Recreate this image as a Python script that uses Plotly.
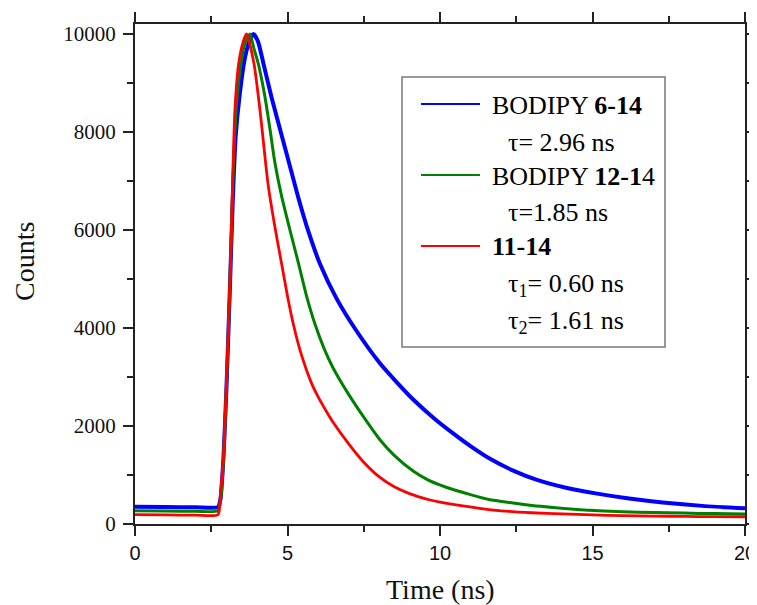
import plotly.graph_objects as go

# time (ns) / counts
t_blue = [0, 1, 2, 2.72, 2.8, 2.9, 3.0, 3.1, 3.2, 3.3, 3.44, 3.6, 3.75, 3.88, 4.03,
          4.21, 4.48, 4.81, 5.08, 5.36, 5.68, 6.07, 6.61, 7.21, 8.03, 8.6, 9.12,
          9.8, 10.43, 11.0, 11.64, 12.4, 13.18, 14.2, 15.15, 16.2, 17.3, 18.6, 20]
c_blue = [350, 345, 340, 345, 500, 1350, 2800, 4600, 6500, 7900, 8800, 9500, 9850, 10000, 9850,
          9400, 8700, 7930, 7300, 6650, 5980, 5300, 4600, 3990, 3280, 2880, 2540,
          2160, 1850, 1590, 1330, 1090, 900, 730, 620, 520, 440, 370, 320]

t_green = [0, 1, 2, 2.72, 2.8, 2.9, 3.0, 3.1, 3.2, 3.3, 3.45, 3.6, 3.77, 3.9, 4.04,
           4.26, 4.43, 4.59, 4.81, 5.08, 5.36, 5.63, 5.9, 6.2, 6.5, 7.0, 7.5, 8.03,
           8.5, 9.12, 9.6, 10.2, 11, 11.6, 12.4, 13.3, 14.6, 16, 17, 18, 19, 20]
c_green = [270, 265, 260, 270, 450, 1300, 2850, 4650, 6800, 8300, 9300, 9800, 10000, 9700, 9400,
           8720, 8040, 7360, 6680, 6000, 5320, 4640, 4080, 3580, 3180, 2650, 2180, 1720,
           1400, 1080, 900, 750, 600, 500, 430, 360, 290, 250, 235, 222, 212, 205]

t_red = [0, 1, 2, 2.72, 2.8, 2.9, 3.0, 3.1, 3.15, 3.2, 3.28, 3.4, 3.55, 3.66, 3.9,
         4.04, 4.15, 4.26, 4.37, 4.59, 4.81, 5.0, 5.21, 5.41, 5.79, 6.0, 6.34, 6.5,
         7.0, 7.5, 8.03, 8.5, 9.0, 9.67, 10, 11.3, 12, 13, 14, 15, 16, 17, 18, 19, 20]
c_red = [190, 185, 180, 190, 600, 1370, 2900, 4700, 5700, 7000, 8500, 9400, 9850, 10000, 9400,
         8750, 8150, 7500, 6900, 6050, 5300, 4650, 4030, 3550, 2870, 2600, 2230, 2070,
         1640, 1260, 950, 760, 620, 490, 445, 320, 270, 230, 205, 185, 170, 162, 155, 150, 148]

legend_rows = ["BODIPY <b>6-14</b>", "τ= 2.96 ns", "BODIPY <b>12-1</b>4", "τ=1.85 ns",
               "<b>11-14</b>", "τ<sub>1</sub>= 0.60 ns", "τ<sub>2</sub>= 1.61 ns"]

serif = "Liberation Serif, Times New Roman, serif"

fig = go.Figure()
fig.add_trace(go.Scatter(x=t_blue, y=c_blue, mode='lines', name='BODIPY 6-14',
                         line=dict(color='#0000ff', width=4, shape='spline', smoothing=0.6)))
fig.add_trace(go.Scatter(x=t_green, y=c_green, mode='lines', name='BODIPY 12-14',
                         line=dict(color='#008000', width=3, shape='spline', smoothing=0.6)))
fig.add_trace(go.Scatter(x=t_red, y=c_red, mode='lines', name='11-14',
                         line=dict(color='#ff0000', width=2.8, shape='spline', smoothing=0.6)))

# the page body adds an 8px margin, so the figure is made 8px smaller
# and its left/top margins 8px narrower to land the plot at the same spot
PAGE = 8
W, H = 757 - PAGE, 605 - PAGE
L, R, T, B = 135 - PAGE, 12, 24 - PAGE, 81
PLOT_X0, PLOT_Y1, pw, ph = 135, 524, 610, 500


def px(x):
    return (x - PLOT_X0) / pw


def py(y):
    return (PLOT_Y1 - y) / ph


# legend box, drawn by hand to match the original layout
shapes = [dict(type='rect', xref='paper', yref='paper',
               x0=px(402), x1=px(665), y0=py(347), y1=py(77),
               line=dict(color='#777777', width=1.5), fillcolor='white', layer='above')]
for col, yy in zip(['#0000ff', '#008000', '#ff0000'], [104, 175, 246]):
    shapes.append(dict(type='line', xref='paper', yref='paper',
                       x0=px(421), x1=px(480), y0=py(yy), y1=py(yy),
                       line=dict(color=col, width=2), layer='above'))

row_y = [105, 142, 176, 212, 247, 285, 322]
row_x = [490, 506, 490, 506, 490, 506, 506]
annotations = []
for txt, xx, yy in zip(legend_rows, row_x, row_y):
    annotations.append(dict(text=txt, xref='paper', yref='paper', x=px(xx), y=py(yy),
                            xanchor='left', yanchor='middle', showarrow=False,
                            font=dict(family=serif, size=26, color='black')))

annotations.append(dict(text='Counts', xref='paper', yref='paper', x=px(24), y=py(261),
                        textangle=-90, showarrow=False, xanchor='center', yanchor='middle',
                        font=dict(family=serif, size=28, color='#111')))
annotations.append(dict(text='Time (ns)', xref='paper', yref='paper', x=0.5, y=py(589),
                        showarrow=False, xanchor='center', yanchor='middle',
                        font=dict(family=serif, size=28, color='#111')))

axis_common = dict(showline=True, linecolor='#222', linewidth=2, mirror='ticks',
                   ticks='outside', ticklen=10, tickwidth=2, tickcolor='#222',
                   showgrid=False, zeroline=False, automargin=False)

fig.update_layout(
    width=W, height=H,
    margin=dict(l=L, r=R, t=T, b=B),
    paper_bgcolor='white', plot_bgcolor='white',
    showlegend=False,
    shapes=shapes,
    annotations=annotations,
    xaxis=dict(range=[0, 20], tick0=0, dtick=5,
               tickfont=dict(family='Liberation Sans, Arial, sans-serif', size=20, color='#111'),
               minor=dict(dtick=2.5, ticks='outside', ticklen=6, tickwidth=2, tickcolor='#222'),
               **axis_common),
    yaxis=dict(range=[0, 10204], tick0=0, dtick=2000, tickformat='d',
               tickfont=dict(family=serif, size=21, color='#111'), ticklabelstandoff=3,
               minor=dict(dtick=1000, ticks='outside', ticklen=6, tickwidth=2, tickcolor='#222'),
               **axis_common),
)

fig.write_html("out.html")
